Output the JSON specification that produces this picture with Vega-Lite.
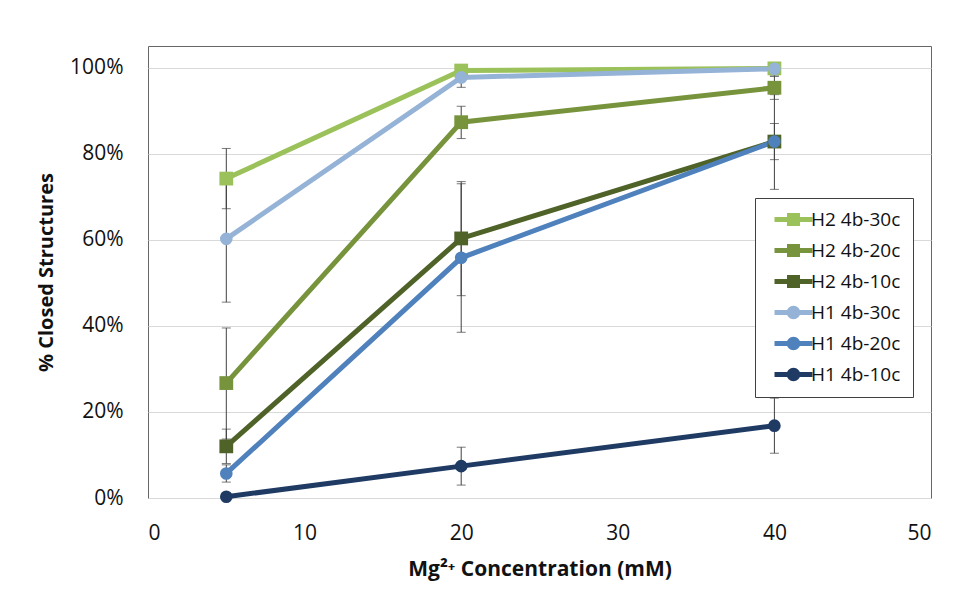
{
  "$schema": "https://vega.github.io/schema/vega-lite/v6.json",
  "width": 783,
  "height": 452,
  "autosize": {"type": "none"},
  "padding": {"left": 148, "top": 46, "right": 46, "bottom": 98},
  "background": "white",
  "config": {
    "view": {"stroke": "#666666", "strokeWidth": 1},
    "font": "Open Sans"
  },
  "data": {
    "values": [
      {"series": "H2 4b-30c", "group": "H2", "conc": 5, "pct": 0.742, "lo": 0.672, "hi": 0.812},
      {"series": "H2 4b-30c", "group": "H2", "conc": 20, "pct": 0.993, "lo": 0.986, "hi": 1.0},
      {"series": "H2 4b-30c", "group": "H2", "conc": 40, "pct": 0.998, "lo": 0.993, "hi": 1.0},
      {"series": "H2 4b-20c", "group": "H2", "conc": 5, "pct": 0.267, "lo": 0.137, "hi": 0.395},
      {"series": "H2 4b-20c", "group": "H2", "conc": 20, "pct": 0.873, "lo": 0.835, "hi": 0.91},
      {"series": "H2 4b-20c", "group": "H2", "conc": 40, "pct": 0.953, "lo": 0.926, "hi": 0.98},
      {"series": "H2 4b-10c", "group": "H2", "conc": 5, "pct": 0.12, "lo": 0.08, "hi": 0.16},
      {"series": "H2 4b-10c", "group": "H2", "conc": 20, "pct": 0.603, "lo": 0.47, "hi": 0.735},
      {"series": "H2 4b-10c", "group": "H2", "conc": 40, "pct": 0.828, "lo": 0.786, "hi": 0.87},
      {"series": "H1 4b-30c", "group": "H1", "conc": 5, "pct": 0.602, "lo": 0.455, "hi": 0.747},
      {"series": "H1 4b-30c", "group": "H1", "conc": 20, "pct": 0.977, "lo": 0.954, "hi": 1.0},
      {"series": "H1 4b-30c", "group": "H1", "conc": 40, "pct": 0.997, "lo": 0.98, "hi": 1.0},
      {"series": "H1 4b-20c", "group": "H1", "conc": 5, "pct": 0.057, "lo": 0.037, "hi": 0.077},
      {"series": "H1 4b-20c", "group": "H1", "conc": 20, "pct": 0.558, "lo": 0.385, "hi": 0.73},
      {"series": "H1 4b-20c", "group": "H1", "conc": 40, "pct": 0.828, "lo": 0.717, "hi": 0.937},
      {"series": "H1 4b-10c", "group": "H1", "conc": 5, "pct": 0.003, "lo": null, "hi": null},
      {"series": "H1 4b-10c", "group": "H1", "conc": 20, "pct": 0.074, "lo": 0.03, "hi": 0.118},
      {"series": "H1 4b-10c", "group": "H1", "conc": 40, "pct": 0.168, "lo": 0.104, "hi": 0.232}
    ]
  },
  "encoding": {
    "x": {
      "field": "conc",
      "type": "quantitative",
      "scale": {"domain": [0, 50], "nice": false},
      "axis": {
        "values": [0, 10, 20, 30, 40, 50],
        "title": "Mg²⁺ Concentration (mM)",
        "grid": false,
        "domain": false,
        "ticks": false,
        "labelFontSize": 21,
        "labelColor": "#111111",
        "labelPadding": 24,
        "titleFontSize": 21,
        "titleFontWeight": "bold",
        "titleColor": "#111111",
        "titlePadding": 15
      }
    }
  },
  "layer": [
    {
      "transform": [{"filter": "isValid(datum.lo)"}],
      "mark": {"type": "rule", "color": "#404040", "strokeWidth": 1},
      "encoding": {
        "y": {"field": "lo", "type": "quantitative"},
        "y2": {"field": "hi"}
      }
    },
    {
      "transform": [{"filter": "isValid(datum.lo)"}],
      "mark": {"type": "tick", "orient": "horizontal", "color": "#404040", "size": 9, "thickness": 1},
      "encoding": {
        "y": {"field": "lo", "type": "quantitative"}
      }
    },
    {
      "transform": [{"filter": "isValid(datum.hi)"}],
      "mark": {"type": "tick", "orient": "horizontal", "color": "#404040", "size": 9, "thickness": 1},
      "encoding": {
        "y": {"field": "hi", "type": "quantitative"}
      }
    },
    {
      "mark": {"type": "line", "strokeWidth": 5},
      "encoding": {
        "y": {
          "field": "pct",
          "type": "quantitative",
          "scale": {"domain": [0, 1.05], "nice": false},
          "axis": {
            "values": [0, 0.2, 0.4, 0.6, 0.8, 1.0],
            "format": ".0%",
            "title": "% Closed Structures",
            "grid": true,
            "gridColor": "#d9d9d9",
            "gridWidth": 1,
            "domain": false,
            "ticks": false,
            "labelFontSize": 21,
            "labelColor": "#111111",
            "labelPadding": 25,
            "titleFontSize": 20,
            "titleFontWeight": "bold",
            "titleColor": "#111111",
            "titlePadding": 13
          }
        },
        "color": {
          "field": "series",
          "type": "nominal",
          "sort": null,
          "scale": {
            "domain": ["H2 4b-30c", "H2 4b-20c", "H2 4b-10c", "H1 4b-30c", "H1 4b-20c", "H1 4b-10c"],
            "range": ["#9BC15A", "#77933C", "#4F6228", "#95B3D7", "#4F81BD", "#1F3B63"]
          },
          "legend": {
            "title": null,
            "orient": "none",
            "legendX": 607,
            "legendY": 152,
            "padding": 12,
            "fillColor": "white",
            "strokeColor": "#404040",
            "labelFont": "Open Sans",
            "labelFontSize": 19,
            "labelColor": "#111111",
            "symbolSize": 100,
            "symbolOffset": 17,
            "labelOffset": 8,
            "rowPadding": 11,
            "symbolStrokeWidth": 0,
            "symbolOpacity": 1,
            "encode": {
              "symbols": {
                "update": {
                  "fill": {"scale": "color", "field": "value"},
                  "strokeWidth": {"value": 0},
                  "opacity": {"value": 1},
                  "shape": {"signal": "indexof(datum.value, 'H2') === 0 ? 'M-3.8,-0.5H3.8V0.5H-3.8Z M-1.3,-1.3H1.3V1.3H-1.3Z' : 'M-3.8,-0.5H3.8V0.5H-3.8Z M1.35,0A1.35,1.35,0,1,1,-1.35,0A1.35,1.35,0,1,1,1.35,0Z'"}
                }
              }
            }
          }
        }
      }
    },
    {
      "transform": [{"filter": "datum.group === 'H2'"}],
      "mark": {"type": "point", "shape": "square", "filled": true, "size": 190, "opacity": 1},
      "encoding": {
        "y": {"field": "pct", "type": "quantitative"},
        "color": {"field": "series", "type": "nominal"}
      }
    },
    {
      "transform": [{"filter": "datum.group === 'H1'"}],
      "mark": {"type": "point", "shape": "circle", "filled": true, "size": 160, "opacity": 1},
      "encoding": {
        "y": {"field": "pct", "type": "quantitative"},
        "color": {"field": "series", "type": "nominal"}
      }
    }
  ]
}
